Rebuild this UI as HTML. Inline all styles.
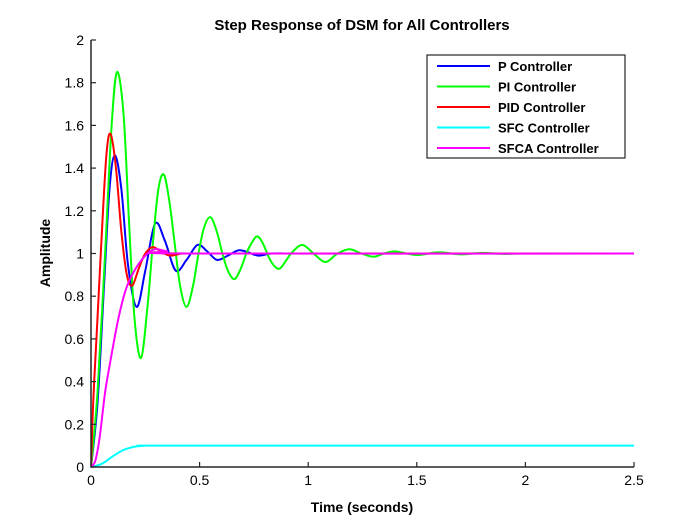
<!DOCTYPE html>
<html><head><meta charset="utf-8"><style>
body{margin:0;background:#fff;}
svg text{font-family:"Liberation Sans",Arial,sans-serif;}
</style></head><body>
<svg id="chart" width="700" height="525" xmlns="http://www.w3.org/2000/svg">
<rect width="700" height="525" fill="#fff"/>
<g id="series"></g>
<g id="axes"></g>
<g id="legend"></g>
</svg>
<script>
const xTicks=[0,0.5,1,1.5,2,2.5];
const yTicks=[0,0.2,0.4,0.6,0.8,1,1.2,1.4,1.6,1.8,2];
const seriesNames=["P Controller","PI Controller","PID Controller","SFC Controller","SFCA Controller"];
const seriesColors=["#0000ff","#00ff00","#ff0000","#00ffff","#ff00ff"];
const pT=[0,0.03,0.06,0.085,0.11,0.14,0.17,0.21,0.25,0.295,0.34,0.39,0.44,0.49,0.535,0.58,0.63,0.68,0.725,0.77,0.83,0.9,1.0,2.5];
const pV=[0,0.3,0.85,1.3,1.46,1.3,0.95,0.75,0.92,1.14,1.06,0.92,0.97,1.04,1.01,0.97,0.99,1.015,1.005,0.99,1.0,1.0,1.0,1.0];
const piT=[0,0.03,0.065,0.095,0.12,0.15,0.175,0.2,0.23,0.26,0.285,0.31,0.335,0.36,0.385,0.41,0.44,0.47,0.495,0.52,0.55,0.58,0.605,0.63,0.66,0.69,0.715,0.74,0.765,0.79,0.82,0.845,0.87,0.9,0.93,0.975,1.03,1.08,1.135,1.19,1.245,1.3,1.35,1.4,1.5,1.6,1.7,1.8,1.9,2.0,2.5];
const piV=[0,0.35,1.0,1.6,1.85,1.65,1.15,0.7,0.51,0.75,1.05,1.3,1.37,1.25,1.05,0.85,0.75,0.85,1.0,1.12,1.17,1.1,1.0,0.92,0.88,0.93,1.0,1.05,1.08,1.05,0.98,0.94,0.93,0.97,1.01,1.04,0.995,0.96,1.0,1.02,1.0,0.985,1.0,1.01,0.993,1.006,0.996,1.003,0.998,1.0,1.0];
const pidT=[0,0.01,0.025,0.045,0.07,0.09,0.115,0.14,0.165,0.19,0.22,0.25,0.285,0.32,0.365,0.42,0.5,2.5];
const pidV=[0,0.3,0.6,1.0,1.45,1.56,1.4,1.1,0.9,0.85,0.93,1.0,1.03,1.01,0.99,1.0,1.0,1.0];
const sfcT=[0,0.05,0.1,0.15,0.2,0.25,0.3,0.4,2.5];
const sfcV=[0,0.015,0.05,0.08,0.095,0.1,0.1,0.1,0.1];
const sfcaT=[0,0.02,0.04,0.065,0.09,0.125,0.16,0.2,0.25,0.295,0.35,0.45,2.5];
const sfcaV=[0,0.03,0.14,0.35,0.5,0.69,0.83,0.92,0.99,1.02,1.01,1.0,1.0];
const seriesT=[pT,piT,pidT,sfcT,sfcaT];
const seriesV=[pV,piV,pidV,sfcV,sfcaV];

const X0=91,X1=634,Y0=467,Y1=40;
const xs=t=>X0+(t-0)/2.5*(X1-X0);
const ys=v=>Y0-(v-0)/2*(Y0-Y1);
const NS="http://www.w3.org/2000/svg";
function mk(tag,attrs,parent){const e=document.createElementNS(NS,tag);for(const k in attrs)e.setAttribute(k,attrs[k]);parent.appendChild(e);return e;}
const axes=document.getElementById('axes'),ser=document.getElementById('series'),leg=document.getElementById('legend');

function pathFor(T,V){
  const P=T.map((t,i)=>[xs(t),ys(V[i])]);
  let d=`M${P[0][0]},${P[0][1]}`;
  for(let i=0;i<P.length-1;i++){
    const p0=P[Math.max(0,i-1)],p1=P[i],p2=P[i+1],p3=P[Math.min(P.length-1,i+2)];
    const c1=[p1[0]+(p2[0]-p0[0])/6,p1[1]+(p2[1]-p0[1])/6];
    const c2=[p2[0]-(p3[0]-p1[0])/6,p2[1]-(p3[1]-p1[1])/6];
    d+=` C${c1[0]},${c1[1]} ${c2[0]},${c2[1]} ${p2[0]},${p2[1]}`;
  }
  return d;
}
const clip=mk('clipPath',{id:'plotclip'},document.getElementById('chart'));
mk('rect',{x:X0,y:Y1,width:X1-X0,height:Y0-Y1},clip);
ser.setAttribute('clip-path','url(#plotclip)');
[0,1,2,3,4].forEach(i=>{
  const p=mk('path',{d:pathFor(seriesT[i],seriesV[i]),fill:'none',stroke:seriesColors[i],'stroke-width':2},ser);
  
  
});
const ax=mk('path',{d:`M${X0},${Y1}V${Y0}H${X1}`,fill:'none',stroke:'#262626','stroke-width':1.5},axes);


xTicks.forEach(t=>{
  const x=xs(t);
  mk('line',{x1:x,x2:x,y1:Y0,y2:Y0-5,stroke:'#262626','stroke-width':1.2},axes);
  const tx=mk('text',{x:x,y:Y0+18,'text-anchor':'middle','font-size':14,fill:'#000'},axes);
  tx.textContent=String(t);
  
  
});
yTicks.forEach(v=>{
  const y=ys(v);
  mk('line',{x1:X0,x2:X0+5,y1:y,y2:y,stroke:'#262626','stroke-width':1.2},axes);
  const tx=mk('text',{x:X0-7,y:y+5,'text-anchor':'end','font-size':14,fill:'#000'},axes);
  tx.textContent=String(v);
  
  
});
const ttl=mk('text',{x:362,y:30,'text-anchor':'middle','font-size':15,'font-weight':'bold'},axes);
ttl.textContent='Step Response of DSM for All Controllers';


const xl=mk('text',{x:362,y:512,'text-anchor':'middle','font-size':14,'font-weight':'bold'},axes);
xl.textContent='Time (seconds)';


const yl=mk('text',{x:0,y:0,'text-anchor':'middle','font-size':14,'font-weight':'bold',transform:'translate(50,253) rotate(-90)'},axes);
yl.textContent='Amplitude';


const lb=mk('rect',{x:427,y:55,width:198,height:103,fill:'#fff',stroke:'#262626','stroke-width':1.2},leg);


seriesNames.forEach((n,i)=>{
  const y=66+i*20.5;
  const g=mk('g',{},leg);
  
  
  mk('line',{x1:437,x2:490,y1:y,y2:y,stroke:seriesColors[i],'stroke-width':2},g);
  const t=mk('text',{x:498,y:y+5,'font-size':13,'font-weight':'bold'},g);
  t.textContent=n;
});
</script>
</body></html>
